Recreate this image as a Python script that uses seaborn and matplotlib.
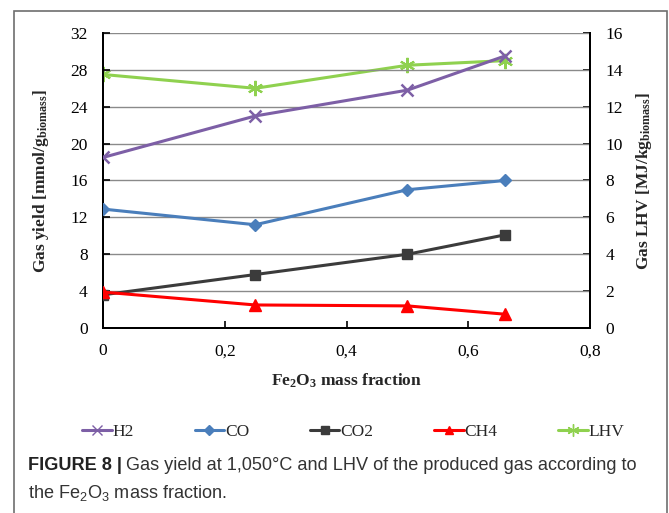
import pandas as pd
import numpy as np
import matplotlib.pyplot as plt
import seaborn as sns
from matplotlib.lines import Line2D
from matplotlib.patches import Rectangle

# =========================
# DATA
# =========================

fe2o3_fraction = [0, 0.25, 0.5, 0.66]

h2 = [18.5, 23.0, 25.8, 29.5]
co = [12.9, 11.2, 15.0, 16.0]
co2 = [3.6, 5.8, 8.0, 10.1]
ch4 = [3.9, 2.5, 2.4, 1.5]
lhv = [13.75, 13.0, 14.25, 14.5]

gases = ["H2", "CO", "CO2", "CH4"]
x_ticks = [0, 0.2, 0.4, 0.6, 0.8]
x_tick_labels = ["0", "0,2", "0,4", "0,6", "0,8"]
left_ticks = [0, 4, 8, 12, 16, 20, 24, 28, 32]
right_ticks = [0, 2, 4, 6, 8, 10, 12, 14, 16]

colors = {
    "H2": "#7d5fa6",
    "CO": "#4a7ebb",
    "CO2": "#3b3b3b",
    "CH4": "#ff0000",
    "LHV": "#8fd14f",
}
markers = {
    "H2": "x",
    "CO": "D",
    "CO2": "s",
    "CH4": "^",
    "LHV": (6, 2, 0),
}
msizes = {"H2": 9, "CO": 6, "CO2": 7, "CH4": 8, "LHV": 11}

gas_df = pd.DataFrame({
    "fraction": fe2o3_fraction * len(gases),
    "value": h2 + co + co2 + ch4,
    "gas": [g for g in gases for _ in fe2o3_fraction],
})
lhv_df = pd.DataFrame({"fraction": fe2o3_fraction, "lhv": lhv})

# =========================
# STYLE
# =========================

sns.set_style("white")
plt.rcParams['font.family'] = ['Liberation Serif', 'DejaVu Serif']
plt.rcParams['mathtext.default'] = 'regular'

serif_size = 12.5

fig = plt.figure(figsize=(6.69, 5.13), dpi=100)
ax = fig.add_axes([0.154, 0.3606, 0.728, 0.5751])
ax2 = ax.twinx()

# =========================
# GAS YIELD LINES
# =========================

for g in gases:
    sub = gas_df[gas_df["gas"] == g]
    sns.lineplot(
        data=sub, x="fraction", y="value", ax=ax,
        color=colors[g], marker=markers[g], markersize=msizes[g],
        markeredgecolor=colors[g], markeredgewidth=1.8 if g == "H2" else 1,
        linewidth=2.2, legend=False, zorder=3,
    )

sns.lineplot(
    data=lhv_df, x="fraction", y="lhv", ax=ax2,
    color=colors["LHV"], marker=markers["LHV"], markersize=msizes["LHV"],
    markeredgecolor=colors["LHV"], markeredgewidth=1.5,
    linewidth=2.2, legend=False, zorder=3,
)

# =========================
# AXES
# =========================

ax.set_xlim(0, 0.8)
ax.set_ylim(0, 32)
ax2.set_ylim(0, 16)
ax.set_xticks(x_ticks)
ax.set_xticklabels(x_tick_labels)
ax.set_yticks(left_ticks)
ax2.set_yticks(right_ticks)

for a in (ax, ax2):
    a.tick_params(direction="in", length=5, width=1.2, colors="black",
                  labelsize=serif_size)
    for s in a.spines.values():
        s.set_color("black")
        s.set_linewidth(1.4)
    a.spines["top"].set_visible(False)

ax.tick_params(axis="x", bottom=True, pad=11)
ax.tick_params(axis="y", left=True, pad=11)
ax2.tick_params(axis="y", right=True, pad=11)
ax.xaxis.set_ticks_position("bottom")

ax.yaxis.grid(True, color="#8a8a8a", linewidth=1.0)
ax.xaxis.grid(False)
ax2.grid(False)
ax.set_axisbelow(True)
ax.set_zorder(ax2.get_zorder() + 1)
ax.patch.set_visible(False)

ax.set_xlabel("$Fe_2O_3$ mass fraction", fontsize=serif_size,
              fontweight="bold", labelpad=9)
ax.set_ylabel("Gas yield [mmol/g$_{biomass}$]", fontsize=serif_size,
              fontweight="bold", labelpad=14)
ax2.set_ylabel("Gas LHV [MJ/kg$_{biomass}$]", fontsize=serif_size,
               fontweight="bold", labelpad=8)

# =========================
# LEGEND
# =========================

handles = []
for name in ["H2", "CO", "CO2", "CH4", "LHV"]:
    handles.append(Line2D(
        [0], [0], color=colors[name], marker=markers[name],
        markersize=msizes[name] * 0.8, markeredgecolor=colors[name],
        linewidth=2.2, label=name,
    ))

fig.legend(
    handles=handles, loc="center", bbox_to_anchor=(0.528, 0.158),
    ncol=5, frameon=False, fontsize=serif_size, handlelength=1.7,
    handletextpad=0.05, columnspacing=3.5,
)

# =========================
# CAPTION AND FRAME
# =========================

cap_font = ['Liberation Sans', 'DejaVu Sans']
cap_size = 13.1
t1 = fig.text(28 / 669, 1 - 466 / 513, "FIGURE 8 |", family=cap_font,
              fontsize=cap_size, fontweight="bold", va="center", ha="left",
              color="#222222")
fig.canvas.draw()
bb = t1.get_window_extent()
fig.text((bb.x1 + 4) / 669, 1 - 466 / 513,
         "Gas yield at 1,050\u00b0C and LHV of the produced gas according to",
         family=cap_font, fontsize=cap_size, va="center", ha="left",
         color="#333333")
fig.text(28 / 669, 1 - 493 / 513, "the $Fe_2O_3$ mass fraction.",
         family=cap_font, fontsize=cap_size, va="center", ha="left",
         color="#333333")

fig.patches.append(Rectangle(
    (14 / 669, -0.05), (667 - 14) / 669, 1.05 - 11 / 513,
    transform=fig.transFigure, fill=False, edgecolor="#6e6e6e",
    linewidth=1.2, figure=fig,
))

plt.savefig("out.png", dpi=100)
